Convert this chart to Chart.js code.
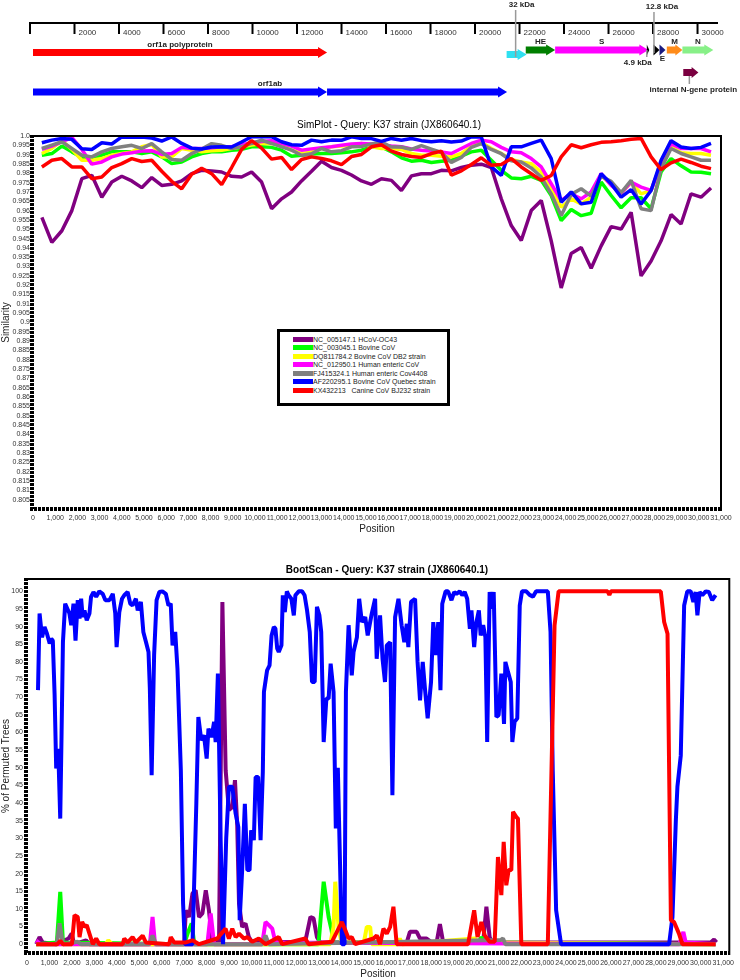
<!DOCTYPE html>
<html>
<head>
<meta charset="utf-8">
<script src="https://cdn.jsdelivr.net/npm/chart.js@4.4.1/dist/chart.umd.min.js"></script>
<style>
  html, body { margin: 0; padding: 0; background: #fff; }
  #page { position: relative; width: 740px; height: 980px; overflow: hidden; }
  canvas { position: absolute; left: 0; }
  #map { top: 0; }
  #sim { top: 110px; }
  #boot { top: 550px; }
  #simLegend {
    position: absolute; left: 277px; top: 329px; width: 154px; height: 68px;
    border: 3px solid #000; background: #fff; padding: 3px 0 0 13px;
    font: 7px Arial, "Liberation Sans", sans-serif; color: #222;
  }
  #simLegend .row { display: flex; align-items: center; height: 8.5px; white-space: nowrap; }
  #simLegend .sw { display: inline-block; width: 20px; height: 5px; }
</style>
</head>
<body>
<div id="page">
  <canvas id="map" width="740" height="105"></canvas>
  <canvas id="sim" width="740" height="425"></canvas>
  <canvas id="boot" width="740" height="430"></canvas>
  <div id="simLegend"></div>
</div>
<script>
// ---- genome map ----
const rulerEnd = 30920;
const rulerTicks = [0, 2000, 4000, 6000, 8000, 10000, 12000, 14000, 16000, 18000, 20000, 22000, 24000, 26000, 28000, 30000];
const geneNames = ['orf1a polyprotein', 'orf1ab', 'orf1ab', '32 kDa', 'HE', 'S', '4.9 kDa', '12.8 kDa', 'E', 'M', 'N', 'internal N-gene protein'];
const geneStart = [135, 135, 13350, 21420, 22280, 23600, 27720, 28020, 28290, 28620, 29320, 29360];
const geneEnd = [13350, 13350, 21440, 22320, 23600, 27790, 27830, 28290, 28560, 29320, 30710, 30040];
const geneColors = ['#ff0000', '#0000ff', '#0000ff', '#2fe0f0', '#007f00', '#ff00ff', '#000000', '#000000', '#1a1a80', '#ff8c1a', '#88f088', '#7a0040'];

// ---- SimPlot ----
const simNames = ['NC_005147.1 HCoV-OC43', 'NC_003045.1 Bovine CoV', 'DQ811784.2 Bovine CoV DB2 strain',
  'NC_012950.1 Human enteric CoV', 'FJ415324.1 Human enteric Cov4408', 'AF220295.1 Bovine CoV Quebec strain',
  'KX432213   Canine CoV BJ232 strain'];
const simColors = ['#800080', '#00ff00', '#ffff00', '#ff00ff', '#808080', '#0000ff', '#ff0000'];
const simPos = [400, 850, 1300, 1750, 2200, 2650, 3100, 3550, 4000, 4450, 4900, 5350, 5800, 6250, 6700, 7150, 7600,
  8050, 8500, 8950, 9400, 9850, 10300, 10750, 11200, 11650, 12100, 12550, 13000, 13450, 13900, 14350, 14800, 15250,
  15700, 16150, 16600, 17050, 17500, 17950, 18400, 18850, 19300, 19750, 20200, 20650, 21100, 21550, 22000, 22450,
  22900, 23350, 23800, 24250, 24700, 25150, 25600, 26050, 26500, 26950, 27400, 27850, 28300, 28750, 29200, 29650,
  30100, 30550];
const simOC43 = [0.9564, 0.943, 0.9492, 0.960, 0.9771, 0.9789, 0.9672, 0.9753, 0.9784, 0.9759,
  0.9723, 0.9777, 0.9735, 0.9741, 0.9759, 0.9798, 0.9816, 0.9813, 0.9807, 0.9784,
  0.978, 0.9807, 0.9753, 0.961, 0.9663, 0.970, 0.9759, 0.9811, 0.9865, 0.9831,
  0.9816, 0.9791, 0.9759, 0.9741, 0.9771, 0.9762, 0.9708, 0.9786, 0.9798, 0.9798,
  0.9816, 0.9813, 0.9831, 0.9843, 0.9849, 0.9831, 0.9663, 0.952, 0.944, 0.960,
  0.9654, 0.9438, 0.9185, 0.937, 0.9402, 0.9291, 0.9411, 0.9514, 0.9501, 0.9591,
  0.925, 0.933, 0.9438, 0.9579, 0.9528, 0.969, 0.9672, 0.9721];
const simBovine = [0.9897, 0.9906, 0.9946, 0.9915, 0.9885, 0.987, 0.9897, 0.9915, 0.9915, 0.9915,
  0.9906, 0.9915, 0.9888, 0.9852, 0.9861, 0.9888, 0.9906, 0.9915, 0.9915, 0.9924,
  0.9928, 0.9942, 0.9942, 0.9939, 0.9924, 0.9892, 0.9897, 0.9903, 0.9906, 0.9906,
  0.991, 0.9915, 0.9924, 0.9942, 0.9942, 0.9915, 0.9883, 0.9865, 0.987, 0.9858,
  0.9865, 0.987, 0.9892, 0.9915, 0.9924, 0.987, 0.9816, 0.9775, 0.9771, 0.9784,
  0.9762, 0.9681, 0.9546, 0.9606, 0.9573, 0.9586, 0.9753, 0.9681, 0.9615, 0.9669,
  0.9669, 0.961, 0.9807, 0.9879, 0.984, 0.9807, 0.9806, 0.9798];
const simDB2 = [0.9906, 0.9933, 0.9975, 0.9928, 0.987, 0.987, 0.9879, 0.9897, 0.9906, 0.9915,
  0.9942, 0.9955, 0.9888, 0.9888, 0.9933, 0.9924, 0.9915, 0.9921, 0.9924, 0.9933,
  0.9942, 0.9951, 0.996, 0.996, 0.9951, 0.9924, 0.9906, 0.9915, 0.9933, 0.9942,
  0.9946, 0.9951, 0.996, 0.9942, 0.9933, 0.9933, 0.9928, 0.9906, 0.9897, 0.9897,
  0.9892, 0.9888, 0.9906, 0.9942, 0.9966, 0.9933, 0.9906, 0.9874, 0.9861, 0.9852,
  0.9807, 0.9717, 0.9618, 0.9663, 0.9636, 0.9672, 0.9789, 0.974, 0.969, 0.9753,
  0.969, 0.9708, 0.9852, 0.9942, 0.991, 0.9906, 0.9906, 0.9897];
const simEnteric = [0.9928, 0.9946, 0.9969, 0.9993, 0.9928, 0.9849, 0.9861, 0.9888, 0.9903, 0.991,
  0.9919, 0.9921, 0.9901, 0.9906, 0.9939, 0.9933, 0.9933, 0.9937, 0.9942, 0.9942,
  0.9953, 0.9964, 0.9971, 0.9975, 0.996, 0.9946, 0.9924, 0.9931, 0.9937, 0.9942,
  0.995, 0.9957, 0.996, 0.9957, 0.9951, 0.9946, 0.9942, 0.993, 0.9924, 0.9919,
  0.9914, 0.9906, 0.9933, 0.996, 0.9978, 0.9969, 0.9939, 0.9915, 0.991, 0.9879,
  0.9834, 0.9744, 0.9654, 0.969, 0.9663, 0.970, 0.9798, 0.9735, 0.9694, 0.9753,
  0.9726, 0.9708, 0.9852, 0.9957, 0.9933, 0.9933, 0.9933, 0.9915];
const simCov4408 = [0.9933, 0.9951, 0.9969, 0.9933, 0.9897, 0.9888, 0.9915, 0.9933, 0.9942, 0.995,
  0.9933, 0.9959, 0.9915, 0.9874, 0.987, 0.9906, 0.993, 0.9959, 0.995, 0.9933,
  0.9942, 0.996, 0.9977, 0.996, 0.9942, 0.9924, 0.9897, 0.9905, 0.9933, 0.9915,
  0.9921, 0.9942, 0.9944, 0.9957, 0.9968, 0.9941, 0.9941, 0.9928, 0.9948, 0.993,
  0.9912, 0.9858, 0.9885, 0.9939, 0.9959, 0.9928, 0.9905, 0.9867, 0.9861, 0.9829,
  0.978, 0.969, 0.9573, 0.9687, 0.9717, 0.9678, 0.9784, 0.9757, 0.9696, 0.9762,
  0.961, 0.96, 0.9825, 0.9933, 0.9906, 0.9888, 0.987, 0.987];
const simQuebec = [0.9964, 0.9978, 0.9987, 0.9982, 0.9932, 0.9928, 0.9964, 0.9957, 0.9995, 0.9993,
  0.9995, 0.9989, 0.9973, 0.9995, 0.996, 0.9935, 0.993, 0.9941, 0.9942, 0.9941,
  0.9968, 0.9996, 0.9996, 0.9996, 0.9969, 0.9953, 0.995, 0.9978, 0.9969, 0.9978,
  0.9977, 0.9996, 0.9987, 0.9986, 0.9971, 0.9987, 0.9977, 0.9987, 0.9975, 0.9969,
  0.9975, 0.9968, 0.9973, 0.9995, 0.9995, 0.9834, 0.9789, 0.9942, 0.9942, 0.996,
  0.9978, 0.9879, 0.9645, 0.970, 0.9636, 0.9645, 0.9798, 0.9744, 0.9672, 0.9712,
  0.9635, 0.9708, 0.987, 0.9975, 0.9941, 0.9933, 0.9939, 0.996];
const simCanine = [0.9834, 0.987, 0.9879, 0.9834, 0.9834, 0.9771, 0.978, 0.9831, 0.9852, 0.9879,
  0.9863, 0.987, 0.9811, 0.9757, 0.9717, 0.9795, 0.9827, 0.9798, 0.9739, 0.9831,
  0.9928, 0.9975, 0.9935, 0.9876, 0.9885, 0.982, 0.9874, 0.9888, 0.9879, 0.9867,
  0.9847, 0.989, 0.9901, 0.9942, 0.9953, 0.9919, 0.9901, 0.989, 0.9885, 0.9906,
  0.9919, 0.979, 0.9813, 0.9847, 0.9883, 0.9843, 0.9847, 0.9879, 0.9834, 0.9798,
  0.9762, 0.9788, 0.9888, 0.9953, 0.9937, 0.9953, 0.9966, 0.9969, 0.9975, 0.9982,
  0.9987, 0.9888, 0.982, 0.9856, 0.9876, 0.9858, 0.9838, 0.9825];
const simSeries = [simOC43, simBovine, simDB2, simEnteric, simCov4408, simQuebec, simCanine];

// ---- BootScan ----
const bsOC43Pos = [410, 560, 700, 1300, 1850, 1990, 2100, 2630, 2780, 7000, 7070, 7220, 7370, 7510, 7660, 7810, 7960,
  8100, 8250, 8550, 8700, 8845, 8990, 9140, 9260, 9360, 9440, 9580, 9730, 9880, 10030, 12390, 12620, 12760, 12910,
  13060, 16910, 17050, 17350, 17500, 17790, 18015, 18240, 18385, 18530, 20310, 20455, 20600, 20710, 30440, 30590, 30700];
const bsOC43Val = [0, 2, 0.5, 0, 1.6, 3, 0, 1.1, 0, 0, 9.6, 7.7, 14.4, 15.3, 7.7, 8.7, 15.3,
  9.6, 0.7, 0.7, 97, 49.3, 38, 38.9, 46.5, 33.7, 11.5, 4.9, 5.9, 2, 0.5, 0.7, 7.7, 7.3, 2,
  0.5, 0.5, 3.5, 3.5, 1.6, 1.6, 0.5, 0.5, 5.7, 0.5, 0.5, 10.6, 2, 0.5, 0.5, 1.3, 0.5];
const bsBovinePos = [410, 1330, 1480, 1600, 7000, 7150, 7330, 7450, 12980, 13210, 13430, 13560, 13650, 20100, 20230, 20380, 30660];
const bsBovineVal = [0, 0.5, 14.8, 0.5, 0, 3, 5.9, 0, 0, 17.7, 7.7, 4, 0.5, 0.5, 2, 0.5, 0];
const bsDB2Pos = [410, 3500, 3620, 3780, 13500, 13650, 13725, 13870, 14000, 15000, 15130, 15280, 15350, 16500, 16600, 16700, 19950, 20100, 30660];
const bsDB2Val = [0, 0, 1.1, 0, 0, 4.9, 17.7, 4.9, 0.5, 0.5, 4.9, 4.9, 0, 0, 1.6, 0, 1.6, 0.5, 0];
const bsEntericPos = [410, 600, 5470, 5590, 5700, 8030, 8180, 8330, 10470, 10620, 10770, 10920, 11060, 29050, 29225, 29330, 30660];
const bsEntericVal = [1, 0, 0, 7.7, 0, 0, 8.7, 0, 0, 6.3, 5.4, 4.4, 0.5, 0, 3.5, 0.5, 0];
const bsCov4408Pos = [410, 1330, 1450, 1600, 2260, 2400, 5440, 5590, 5740, 10470, 10620, 10770, 21100, 21195, 21300, 30660];
const bsCov4408Val = [0, 0, 5.9, 0, 0.7, 0, 0, 2.5, 0, 0, 2.5, 0, 1.2, 1.6, 0, 0];
const bsQuebecPos = [490, 560, 670, 780, 890, 1010, 1080, 1150, 1230, 1300, 1390, 1480, 1540, 1600, 1700, 1890, 1970,
  2070, 2160, 2260, 2340, 2410, 2480, 2560, 2660, 2780, 2850, 2960, 3080, 3220, 3370, 3490, 3670, 3820, 3930, 3990,
  4110, 4230, 4330, 4480, 4600, 4700, 4850, 4930, 5070, 5180, 5300, 5410, 5470, 5550, 5660, 5770, 5890, 6030, 6180,
  6300, 6400, 6480, 6600, 6700, 6850, 6950, 7030, 7370, 7540, 7630, 7760, 7880, 8000, 8080, 8220, 8330, 8400, 8500,
  8620, 8730, 8870, 8990, 9140, 9290, 9410, 9470, 9580, 9700, 9810, 9910, 9980, 10100, 10180, 10290, 10400, 10500,
  10550, 10690, 10800, 10890, 10990, 11060, 11140, 11210, 11330, 11390, 11480, 11570, 11650, 11770, 11880, 11950,
  12100, 12250, 12360, 12470, 12590, 12690, 12810, 12910, 13020, 13100, 13210, 13330, 13430, 13520, 13650, 13750,
  13840, 14020, 14140, 14200, 14320, 14460, 14540, 14690, 14790, 14910, 15060, 15170, 15350, 15500, 15570, 15720,
  15830, 15940, 16020, 16170, 16270, 16390, 16540, 16680, 16800, 16910, 16980, 17100, 17280, 17390, 17500, 17620,
  17720, 17840, 17990, 18090, 18210, 18310, 18410, 18490, 18640, 18750, 18900, 19020, 19120, 19270, 19380, 19490,
  19600, 19720, 19790, 19910, 20010, 20120, 20200, 20310, 20410, 20490, 20600, 20710, 20780, 20900, 21000, 21120,
  21240, 21300, 21420, 21540, 21610, 21710, 21830, 21940, 22040, 22230, 22380, 22530, 22670, 22900, 23190, 23310,
  23410, 23560, 23780, 28590, 28740, 28890, 28960, 29110, 29260, 29400, 29550, 29670, 29770, 29850, 29950, 30070,
  30220, 30360, 30510, 30660];
const bsQuebecVal = [72, 93.7, 87, 89.9, 88, 85.2, 86.6, 86, 70.5, 49.8, 55.4, 35.6, 60, 85.6, 96.5, 93.7, 90.4,
  96.5, 86, 97.5, 92.3, 97.9, 92.7, 94.6, 91.8, 93.7, 98.4, 99.8, 98.5, 100, 99.3, 97.5, 97.5, 99.3, 93.7, 84.2,
  94.1, 97.9, 98.9, 99.8, 96.5, 96, 97.9, 94.6, 97, 88.5, 85.6, 82.8, 72.4, 47.9, 82, 97.5, 99.8, 100, 99.3,
  96, 96.5, 84.7, 88.5, 78, 49.3, 11.5, 0, 0, 40, 64.4, 57.8, 59.2, 52.6, 61.1, 58.7, 63, 57.3, 76.7,
  30, 0, 30, 44.6, 44.6, 37, 33.2, 6.8, 21, 39.8, 21, 21, 32.3, 29.5, 47.4, 47.4, 29.5, 48.8,
  71.5, 77.6, 79, 87.5, 89.9, 89.5, 83.8, 82.8, 84.7, 98.9, 94.1, 100, 98.9, 97.9, 93.2, 98.9,
  100, 100, 98.9, 94.6, 88.5, 74.3, 74.3, 95.6, 93.2, 88.5, 57.3, 69.6, 69.6, 79.5, 71.5, 32.8,
  50, 0, 0, 71.5, 90.4, 76.2, 82.8, 87, 97.9, 91.3, 92.7, 87.5, 93.7, 97.9, 80.9, 93.2,
  80.9, 74.3, 84.7, 85.6, 42.2, 92.7, 97.9, 90.4, 85.6, 90.8, 84.2, 97, 97.9, 80, 69.1, 80,
  72.4, 64, 74.3, 91.3, 81.9, 91.3, 72, 96.5, 100, 100, 97.5, 99.8, 99.3, 100, 98.9, 99.8,
  97.9, 89.4, 94.6, 84.2, 91.3, 94.6, 87.5, 90.4, 87, 57.3, 99.8, 95.1, 99.8, 64.4, 64.9, 76.7,
  62.4, 80, 77.1, 74.3, 57.3, 63, 64, 96, 100, 100, 99, 98.5, 100, 100, 100, 88.5,
  49, 9.6, 0, 0, 7.7, 35, 44.6, 53.5, 96, 100, 100, 97, 99.8, 93.2, 99.8, 98.9,
  100, 99.8, 97.5, 98.9];
const bsCaninePos = [410, 1350, 1480, 1600, 2000, 2115, 2260, 2340, 2455, 2560, 2660, 2780, 2930, 3080, 3220, 4260,
  4330, 4480, 4700, 4850, 5150, 5290, 6330, 6400, 6550, 7070, 7370, 7660, 8470, 8840, 8990, 9140, 9290, 9440, 9660,
  9810, 10030, 10320, 10620, 11210, 11360, 12390, 12540, 13580, 14020, 14170, 14320, 14460, 14610, 15430, 15575,
  15720, 15870, 16020, 16170, 16315, 16460, 19640, 19910, 20060, 20230, 20380, 20600, 20825, 20970, 21120, 21225,
  21340, 21445, 21565, 21640, 21790, 21860, 22010, 23190, 23490, 23670, 25850, 25930, 26000, 28220, 28370, 28520,
  28670, 28810, 29030, 29180, 30660];
const bsCanineVal = [0, 0, 1, 0, 0, 8.2, 7.7, 2, 6.3, 4.9, 5.4, 3, 0, 1.6, 0, 0,
  1.6, 0.5, 2, 0.5, 2.4, 0.5, 0, 2, 0.5, 0.5, 1.1, 0, 1.6, 4.4, 1.6, 4.4, 2, 3, 1.6,
  2, 0.7, 1.6, 0, 2, 0, 1.6, 0, 0.7, 6.3, 4, 1.6, 2, 0, 1.6, 2.5,
  0, 4.4, 3, 4.9, 10.6, 0, 0, 9.6, 2, 6.3, 2.5, 0.7, 0.7, 24.7, 13.9, 29,
  16.7, 21, 21, 37.5, 36, 35.6, 0, 0, 90.4, 100, 100, 99, 100, 100, 91.3, 88,
  6.8, 6.3, 3, 0, 0];
const bsPos = [bsOC43Pos, bsBovinePos, bsDB2Pos, bsEntericPos, bsCov4408Pos, bsQuebecPos, bsCaninePos];
const bsVal = [bsOC43Val, bsBovineVal, bsDB2Val, bsEntericVal, bsCov4408Val, bsQuebecVal, bsCanineVal];

const FONT = 'Arial, "Liberation Sans", sans-serif';
Chart.defaults.font.family = FONT;
Chart.defaults.color = '#333';

function drawArrow(ctx, x0, x1, yc, color) {
  const len = x1 - x0;
  const hl = len < 8 ? len : Math.min(9, len * 0.45);
  ctx.fillStyle = color;
  ctx.beginPath();
  ctx.moveTo(x0, yc - 3.5);
  ctx.lineTo(x1 - hl, yc - 3.5);
  ctx.lineTo(x1 - hl, yc - 5.5);
  ctx.lineTo(x1, yc);
  ctx.lineTo(x1 - hl, yc + 5.5);
  ctx.lineTo(x1 - hl, yc + 3.5);
  ctx.lineTo(x0, yc + 3.5);
  ctx.closePath();
  ctx.fill();
}

const genomeMap = {
  id: 'genomeMap',
  afterDraw(chart) {
    const ctx = chart.ctx;
    const px = v => chart.scales.x.getPixelForValue(v);
    const idx = n => geneNames.indexOf(n);
    const mid = i => (px(geneStart[i]) + px(geneEnd[i])) / 2;
    const rowY = { 'orf1a polyprotein': 52.5, 'orf1ab': 92, '32 kDa': 54.5, 'internal N-gene protein': 72.5 };
    ctx.save();
    // ruler
    ctx.strokeStyle = '#000';
    ctx.lineWidth = 2;
    ctx.beginPath();
    ctx.moveTo(px(0), 23);
    ctx.lineTo(px(rulerEnd), 23);
    ctx.stroke();
    ctx.font = '8px ' + FONT;
    ctx.fillStyle = '#333';
    ctx.textBaseline = 'middle';
    rulerTicks.forEach(t => {
      ctx.beginPath();
      ctx.moveTo(px(t), 22);
      ctx.lineTo(px(t), 34);
      ctx.stroke();
      if (t) ctx.fillText(String(t), px(t) + 4, 33);
    });
    // genes
    geneNames.forEach((n, i) => drawArrow(ctx, px(geneStart[i]), px(geneEnd[i]), rowY[n] || 50, geneColors[i]));
    // labels
    ctx.font = 'bold 8px ' + FONT;
    ctx.fillStyle = '#222';
    ctx.textAlign = 'center';
    [['orf1a polyprotein', 45], ['HE', 42], ['S', 42], ['M', 42], ['N', 42], ['E', 59]]
      .forEach(([n, y]) => ctx.fillText(n, mid(idx(n)), y));
    const ab = geneNames.map((n, i) => n === 'orf1ab' ? i : -1).filter(i => i >= 0);
    ctx.fillText('orf1ab', (px(geneStart[ab[0]]) + px(geneEnd[ab[ab.length - 1]])) / 2, 84);
    // callouts: name, line x, line top, line bottom, text y, text shift
    const callouts = [
      ['32 kDa', mid(idx('32 kDa')) - 1, 10, 57, 5, 6],
      ['12.8 kDa', px(geneStart[idx('12.8 kDa')]) + 0.5, 12, 53, 7, 8],
      ['4.9 kDa', px(geneStart[idx('4.9 kDa')]), 50, 57, 63, -9],
      ['internal N-gene protein', mid(idx('internal N-gene protein')) - 1.5, 76, 84, 90, 4]
    ];
    callouts.forEach(([n, x, y0, y1, ty, dx]) => {
      ctx.strokeStyle = '#999';
      ctx.lineWidth = 1.5;
      ctx.beginPath();
      ctx.moveTo(x, y0);
      ctx.lineTo(x, y1);
      ctx.stroke();
      ctx.fillText(n, x + dx, ty);
    });
    ctx.restore();
  }
};

const frame = {
  id: 'frame',
  afterDraw(chart, args, opts) {
    const { ctx, chartArea: a } = chart;
    ctx.save();
    ctx.strokeStyle = '#000';
    ctx.lineWidth = 2;
    ctx.beginPath();
    ctx.moveTo(a.left, a.top);
    ctx.lineTo(a.right, a.top);
    ctx.lineTo(a.right, a.bottom + 2);
    ctx.stroke();
    ctx.lineWidth = 4;
    ctx.setLineDash([3, 1]);
    ctx.beginPath();
    ctx.moveTo(a.left - 1, a.top - 1);
    ctx.lineTo(a.left - 1, a.bottom);
    ctx.moveTo(a.left - 3, a.bottom);
    ctx.lineTo(a.right, a.bottom);
    ctx.stroke();
    ctx.setLineDash([]);
    ctx.font = opts.font;
    ctx.fillStyle = '#000';
    ctx.textAlign = 'center';
    ctx.textBaseline = 'middle';
    ctx.fillText(opts.text, opts.x, opts.y);
    ctx.restore();
  }
};

new Chart(document.getElementById('map'), {
  type: 'scatter',
  data: { datasets: [] },
  options: {
    responsive: false, animation: false, devicePixelRatio: 1,
    layout: { padding: { left: 30, right: 22, top: 0, bottom: 0 } },
    plugins: { legend: { display: false }, tooltip: { enabled: false } },
    scales: {
      x: { type: 'linear', min: 0, max: rulerEnd, display: false },
      y: { min: 0, max: 1, display: false }
    }
  },
  plugins: [genomeMap]
});

function axisX(max, pad) {
  return {
    type: 'linear', min: 0, max: max,
    grid: { display: false, drawTicks: false }, border: { display: false },
    afterBuildTicks: s => { s.ticks = []; for (let v = 0; v <= 31000; v += 1000) s.ticks.push({ value: v }); },
    ticks: { autoSkip: false, maxRotation: 0, minRotation: 0, padding: pad, font: { size: 7 }, color: '#333',
      callback: v => v.toLocaleString('en-US') },
    title: { display: true, text: 'Position', font: { size: 10 }, color: '#222', padding: { top: 0, bottom: 0 } }
  };
}

function lineSets(getData, width) {
  return simNames.map((name, i) => ({
    label: name,
    data: getData(i),
    borderColor: simColors[i],
    borderWidth: width,
    borderJoinStyle: 'bevel',
    pointRadius: 0,
    tension: 0,
    fill: false,
    order: simNames.length - i
  }));
}

new Chart(document.getElementById('sim'), {
  type: 'line',
  data: { datasets: lineSets(i => simPos.map((p, j) => ({ x: p, y: simSeries[i][j] })), 3.5) },
  options: {
    responsive: false, animation: false, devicePixelRatio: 1,
    layout: { padding: { left: 0, right: 19, top: 26, bottom: 0 } },
    plugins: {
      legend: { display: false }, tooltip: { enabled: false },
      frame: { text: 'SimPlot - Query: K37 strain (JX860640.1)', font: '10px ' + FONT, x: 389, y: 15 }
    },
    scales: {
      x: Object.assign(axisX(31000, 4.5), { afterFit: s => { s.height = 26; } }),
      y: {
        min: 0.8, max: 1.0,
        grid: { display: false, drawTicks: false }, border: { display: false },
        afterBuildTicks: s => { s.ticks = []; for (let k = 805; k <= 1000; k += 5) s.ticks.push({ value: k / 1000 }); },
        afterFit: s => { s.width = 33; },
        ticks: { autoSkip: false, padding: 3, font: { size: 7 }, color: '#333',
          callback: v => v === 1 ? '1.0' : String(v) },
        title: { display: true, text: 'Similarity', font: { size: 10 }, color: '#222', padding: { top: 0, bottom: 0 } }
      }
    }
  },
  plugins: [frame]
});

new Chart(document.getElementById('boot'), {
  type: 'line',
  data: { datasets: lineSets(i => bsPos[i].map((p, j) => ({ x: p, y: bsVal[i][j] })), 4) },
  options: {
    responsive: false, animation: false, devicePixelRatio: 1,
    layout: { padding: { left: 0, right: 8, top: 29, bottom: 0 } },
    plugins: {
      legend: { display: false }, tooltip: { enabled: false },
      frame: { text: 'BootScan - Query: K37 strain (JX860640.1)', font: 'bold 10px ' + FONT, x: 387, y: 20 }
    },
    scales: {
      x: Object.assign(axisX(31270, 6), { afterFit: s => { s.height = 27; } }),
      y: {
        min: -2.5, max: 103.5,
        grid: { display: false, drawTicks: false }, border: { display: false },
        afterBuildTicks: s => { s.ticks = []; for (let v = 0; v <= 100; v += 5) s.ticks.push({ value: v }); },
        afterFit: s => { s.width = 27; },
        ticks: { autoSkip: false, padding: 4, font: { size: 7 }, color: '#333', callback: v => String(v) },
        title: { display: true, text: '% of Permuted Trees', font: { size: 10 }, color: '#222', padding: { top: 0, bottom: 0 } }
      }
    }
  },
  plugins: [frame]
});

// legend box of the similarity plot
const legend = document.getElementById('simLegend');
simNames.forEach((name, i) => {
  const row = document.createElement('div');
  row.className = 'row';
  row.innerHTML = '<span class="sw" style="background:' + simColors[i] + '"></span><span></span>';
  row.lastChild.textContent = name;
  row.lastChild.style.whiteSpace = 'pre';
  legend.appendChild(row);
});
</script>
</body>
</html>
